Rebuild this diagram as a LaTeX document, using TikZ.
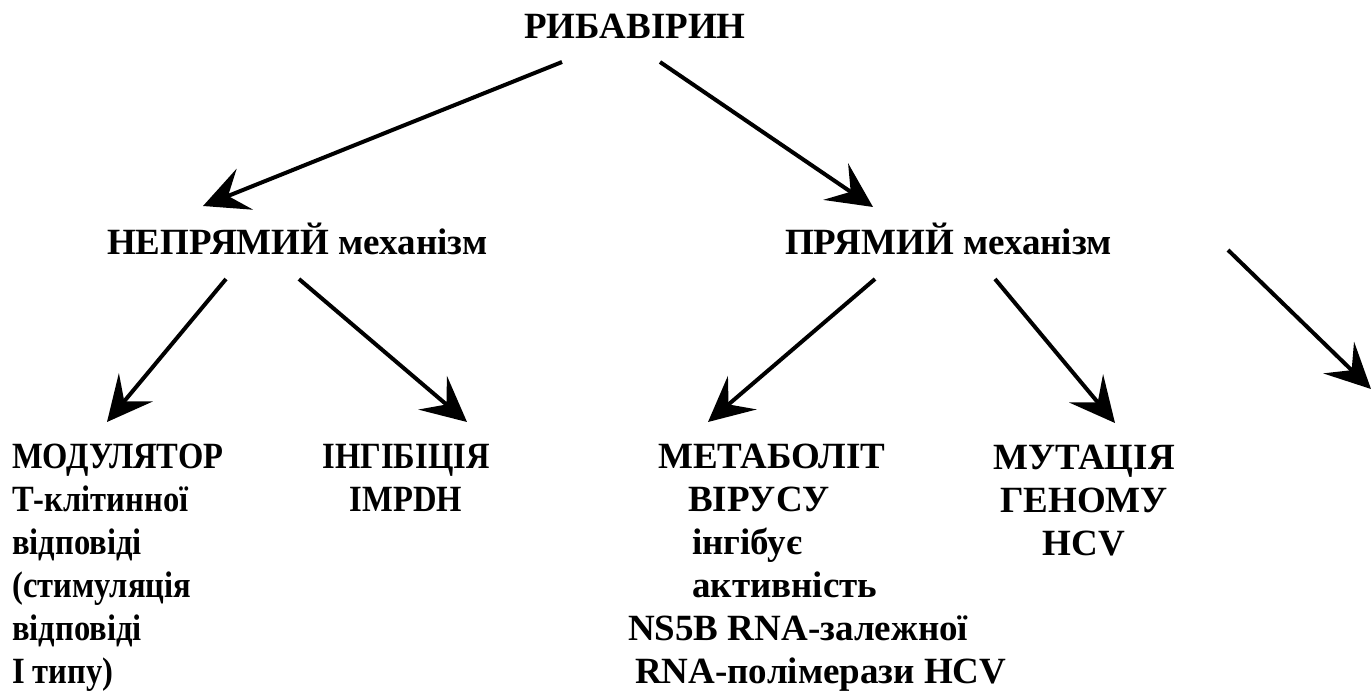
\documentclass[tikz,border=0pt]{standalone}
\usepackage{fontspec}
\setmainfont{Liberation Serif}
\newfontfamily\narrowserif[FakeStretch=0.88]{Liberation Serif}
\usetikzlibrary{arrows.meta}
\begin{document}
\begin{tikzpicture}[x=1pt,y=-1pt,
  lbl/.style={inner sep=0pt, font=\fontsize{37}{43}\selectfont\bfseries},
  nlbl/.style={inner sep=0pt, font=\narrowserif\fontsize{37}{43}\selectfont\bfseries},
  arr/.style={line width=4pt, -{Stealth[length=45pt,width=44pt,inset=18pt]}}]
\useasboundingbox (0,0) rectangle (1371,693);

% headings (single lines, anchored at their baselines)
\node[lbl, anchor=base] (rib) at (635,39) {РИБАВІРИН};
\node[lbl, anchor=base west] (indirect) at (107,254) {НЕПРЯМИЙ механізм};
\node[lbl, anchor=base west] (direct) at (785,254) {ПРЯМИЙ механізм};

% outcomes (multi-line nodes, anchored at the baseline of their last line)
\node[nlbl, anchor=base west, align=left] (modul) at (12,683)
  {МОДУЛЯТОР\\Т-клітинної\\відповіді\\(стимуляція\\відповіді\\І типу)};
\node[nlbl, anchor=base, align=center] (inhib) at (406,511) {ІНГІБІЦІЯ\\IMPDH};
\node[lbl, anchor=base west, align=left] (metab) at (628,683)
  {\hspace*{30pt}МЕТАБОЛІТ\\\hspace*{60pt}ВІРУСУ\\\hspace*{64pt}інгібує\\\hspace*{64pt}активність\\NS5B RNA-залежної\\\hspace*{7pt}RNA-полімерази HCV};
\node[lbl, anchor=base, align=center] (mutat) at (1084,555) {МУТАЦІЯ\\ГЕНОМУ\\HCV};

% arrow end points
\coordinate (r1s) at (562,62);  \coordinate (r1e) at (203,206);
\coordinate (r2s) at (660,62);  \coordinate (r2e) at (873,207);
\coordinate (i1s) at (226,279); \coordinate (i1e) at (107,422);
\coordinate (i2s) at (299,279); \coordinate (i2e) at (467,422);
\coordinate (d1s) at (875,279); \coordinate (d1e) at (708,422);
\coordinate (d2s) at (995,279); \coordinate (d2e) at (1115,423);
\coordinate (d3s) at (1228,250); \coordinate (d3e) at (1371,389);

\draw[arr] (r1s) -- (r1e);
\draw[arr] (r2s) -- (r2e);
\draw[arr] (i1s) -- (i1e);
\draw[arr] (i2s) -- (i2e);
\draw[arr] (d1s) -- (d1e);
\draw[arr] (d2s) -- (d2e);
\draw[arr] (d3s) -- (d3e);
\end{tikzpicture}
\end{document}
